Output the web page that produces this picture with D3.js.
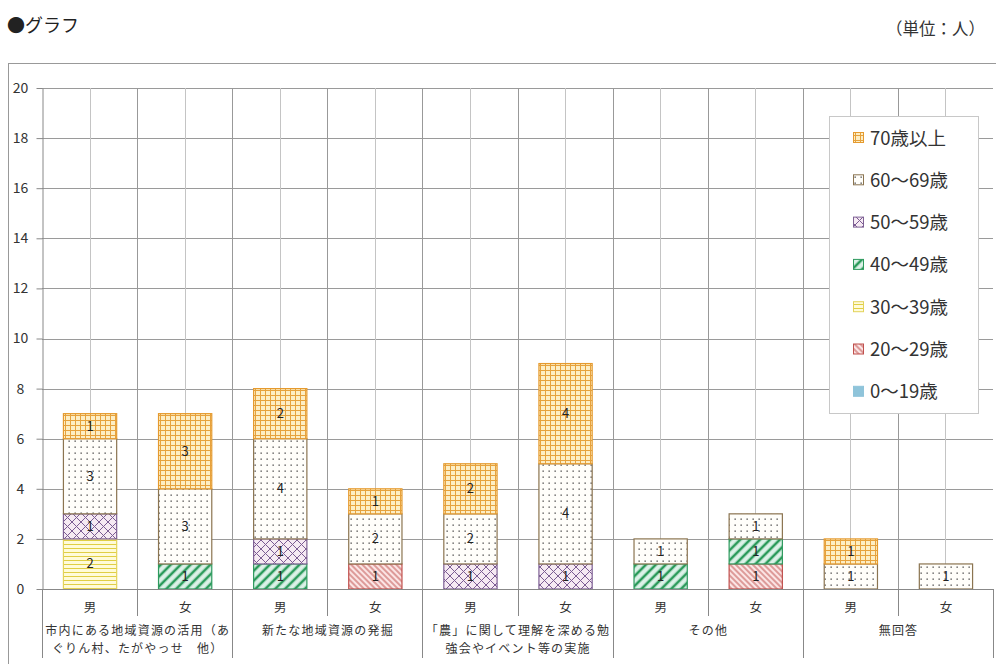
<!DOCTYPE html>
<html>
<head>
<meta charset="utf-8">
<script src="https://cdn.jsdelivr.net/npm/d3@7"></script>
<style>
  body { margin: 0; background: #fff; }
  svg { display: block; }
  text { font-family: "Noto Sans CJK JP", "Noto Sans", sans-serif; }
</style>
</head>
<body>
<svg id="chart" width="996" height="664"></svg>
<script>
// Answer groups (two-line labels split where the text wraps)
const groupLabels = [
  ["市内にある地域資源の活用（あ", "ぐりん村、たがやっせ　他）"],
  ["新たな地域資源の発掘"],
  ["「農」に関して理解を深める勉", "強会やイベント等の実施"],
  ["その他"],
  ["無回答"]
];
const sexLabels = ["男", "女"];

// Age brackets, bottom of the stack first
const ageLabels = ["0～19歳", "20～29歳", "30～39歳", "40～49歳", "50～59歳", "60～69歳", "70歳以上"];

// Counts per bar: group1 男, group1 女, group2 男, ... group5 女
const age0to19  = [0, 0, 0, 0, 0, 0, 0, 0, 0, 0];
const age20to29 = [0, 0, 0, 1, 0, 0, 0, 1, 0, 0];
const age30to39 = [2, 0, 0, 0, 0, 0, 0, 0, 0, 0];
const age40to49 = [0, 1, 1, 0, 0, 0, 1, 1, 0, 0];
const age50to59 = [1, 0, 1, 0, 1, 1, 0, 0, 0, 0];
const age60to69 = [3, 3, 4, 2, 2, 4, 1, 1, 1, 1];
const age70plus = [1, 3, 2, 1, 2, 4, 0, 0, 1, 0];

const yTicks = [0, 2, 4, 6, 8, 10, 12, 14, 16, 18, 20];

const seriesValues = [age0to19, age20to29, age30to39, age40to49, age50to59, age60to69, age70plus];
const seriesKeys = ["a0", "a20", "a30", "a40", "a50", "a60", "a70"];
const strokeColors = ["#8fc4da", "#c0504d", "#e3d35a", "#2e9a5e", "#7e6194", "#8b7450", "#e59a2f"];

// Bar rows for the stack
const barIds = [];
groupLabels.forEach((g, gi) => sexLabels.forEach((s, si) => barIds.push(gi + "-" + si)));
const rows = barIds.map((id, i) => {
  const r = { id };
  seriesKeys.forEach((k, si) => r[k] = seriesValues[si][i]);
  return r;
});

const svg = d3.select("#chart");
const plot = { left: 42, right: 993, top: 88, bottom: 589 };

// ---- fill patterns ----
const defs = svg.append("defs");
function pat(id, w, h, bg, rot) {
  const p = defs.append("pattern").attr("id", id)
    .attr("patternUnits", "userSpaceOnUse").attr("width", w).attr("height", h);
  if (rot) p.attr("patternTransform", "rotate(" + rot + ")");
  p.append("rect").attr("width", w).attr("height", h).attr("fill", bg);
  return p;
}
// 20-29: thin downward diagonals
pat("p20", 4, 4, "#fbe5e5", -45).append("line").attr("x1", 1).attr("x2", 1).attr("y1", 0).attr("y2", 4)
  .attr("stroke", "#c0504d").attr("stroke-width", 1);
// 30-39: horizontal lines
pat("p30", 4, 4, "#fffbd9").append("line").attr("x1", 0).attr("x2", 4).attr("y1", 0.5).attr("y2", 0.5)
  .attr("stroke", "#e0ce45").attr("stroke-width", 1);
// 40-49: wide upward diagonals
pat("p40", 7, 7, "#dcf1e8", 45).append("line").attr("x1", 2).attr("x2", 2).attr("y1", 0).attr("y2", 7)
  .attr("stroke", "#2a9a5a").attr("stroke-width", 2.6);
// 50-59: diagonal cross-hatch
pat("p50", 9, 9, "#f6eaf3").append("path")
  .attr("d", "M0,0L9,9M9,0L0,9M-1,1L1,-1M8,10L10,8M-1,8L1,10M8,-1L10,1")
  .attr("stroke", "#7b5c93").attr("stroke-width", 1).attr("fill", "none");
// 60-69: sparse dots
pat("p60", 6, 6, "#fffefa").append("rect").attr("x", 2.5).attr("y", 2.5).attr("width", 1.3).attr("height", 1.3)
  .attr("fill", "#444");
// 70+: small grid
pat("p70", 5, 5, "#fdeec4").append("path")
  .attr("d", "M0,0.5H5M0.5,0V5")
  .attr("stroke", "#e6a23d").attr("stroke-width", 1).attr("fill", "none");
const fills = ["#8fc4da", "url(#p20)", "url(#p30)", "url(#p40)", "url(#p50)", "url(#p60)", "url(#p70)"];

// ---- scales ----
const x = d3.scaleBand().domain(barIds).range([plot.left, plot.right])
  .paddingInner(0.44).paddingOuter(0.22);
const step = x.step();
const y = d3.scaleLinear().domain([0, 20]).range([plot.bottom, plot.top]);

// ---- headings ----
svg.append("text").attr("x", 7).attr("y", 32).attr("font-size", 18).attr("fill", "#222").text("●グラフ");
svg.append("text").attr("x", 985).attr("y", 35).attr("text-anchor", "end").attr("font-size", 16.5)
  .attr("fill", "#333").text("（単位：人）");

// chart frame
svg.append("rect").attr("x", 8.5).attr("y", 63.5).attr("width", 1100).attr("height", 700)
  .attr("fill", "none").attr("stroke", "#999");

// ---- gridlines ----
const grid = svg.append("g");
grid.selectAll("line.h").data(yTicks.filter(t => t > 0)).join("line")
  .attr("x1", plot.left).attr("x2", plot.right)
  .attr("y1", d => Math.round(y(d)) + 0.5).attr("y2", d => Math.round(y(d)) + 0.5)
  .attr("stroke", "#9a9a9a");
// lines through bar centres
grid.selectAll("line.c").data(barIds).join("line")
  .attr("x1", d => Math.round(x(d) + x.bandwidth() / 2) + 0.5)
  .attr("x2", d => Math.round(x(d) + x.bandwidth() / 2) + 0.5)
  .attr("y1", plot.top).attr("y2", plot.bottom)
  .attr("stroke", "#c4c4c4");
// lines between bars
const boundaries = d3.range(1, barIds.length).map(i => plot.left + i * step);
grid.selectAll("line.b").data(boundaries).join("line")
  .attr("x1", d => Math.round(d) + 0.5).attr("x2", d => Math.round(d) + 0.5)
  .attr("y1", plot.top).attr("y2", plot.bottom)
  .attr("stroke", "#999");

// ---- stacked bars ----
const stacked = d3.stack().keys(seriesKeys)(rows);
const layers = svg.append("g").selectAll("g").data(stacked).join("g")
  .attr("fill", (d, i) => fills[i]).attr("stroke", (d, i) => strokeColors[i]);
layers.selectAll("rect").data(d => d.filter(s => s[1] - s[0] > 0)).join("rect")
  .attr("x", d => x(d.data.id) + 0.5)
  .attr("y", d => y(d[1]))
  .attr("width", x.bandwidth())
  .attr("height", d => y(d[0]) - y(d[1]))
  .attr("stroke-width", 1.2);

// value labels
stacked.forEach(layer => {
  svg.append("g").selectAll("text").data(layer.filter(s => s[1] - s[0] > 0)).join("text")
    .attr("x", d => x(d.data.id) + x.bandwidth() / 2 + 0.5)
    .attr("y", d => y((d[0] + d[1]) / 2) + 4.5)
    .attr("text-anchor", "middle").attr("font-size", 13).attr("fill", "#222")
    .text(d => d[1] - d[0]);
});

// ---- y axis ----
const yAxis = svg.append("g").attr("transform", "translate(" + (plot.left + 0.5) + ",0)")
  .call(d3.axisLeft(y).tickValues(yTicks).tickSize(6).tickSizeOuter(0));
yAxis.select(".domain").attr("stroke", "#888");
yAxis.selectAll(".tick line").attr("stroke", "#888");
yAxis.selectAll(".tick text").attr("x", -22).attr("text-anchor", "middle")
  .attr("font-family", "'Liberation Sans', Arial, sans-serif").attr("font-size", 14).attr("fill", "#333");

// ---- x axis (two levels) ----
svg.append("line").attr("x1", plot.left).attr("x2", plot.right)
  .attr("y1", plot.bottom + 0.5).attr("y2", plot.bottom + 0.5).attr("stroke", "#888");
const xa = svg.append("g");
// short separators between 男 and 女
xa.selectAll("line.s").data(groupLabels.map((g, gi) => plot.left + (gi * 2 + 1) * step)).join("line")
  .attr("x1", d => Math.round(d) + 0.5).attr("x2", d => Math.round(d) + 0.5)
  .attr("y1", plot.bottom).attr("y2", 616).attr("stroke", "#888");
// long separators between groups
xa.selectAll("line.g").data(d3.range(groupLabels.length + 1).map(gi => plot.left + gi * 2 * step)).join("line")
  .attr("x1", d => Math.round(d) + 0.5).attr("x2", d => Math.round(d) + 0.5)
  .attr("y1", plot.bottom).attr("y2", 658).attr("stroke", "#888");
// 男 / 女
xa.selectAll("text.sex").data(barIds).join("text")
  .attr("x", d => x(d) + x.bandwidth() / 2 + 0.5).attr("y", 612)
  .attr("text-anchor", "middle").attr("font-size", 12.5).attr("fill", "#333")
  .text(d => sexLabels[+d.split("-")[1]]);
// group names
groupLabels.forEach((lines, gi) => {
  const cx = plot.left + (gi * 2 + 1) * step;
  lines.forEach((t, li) => {
    xa.append("text").attr("x", cx + 0.6).attr("y", 635 + li * 17.6)
      .attr("text-anchor", "middle").attr("font-size", 12).attr("letter-spacing", 1.2)
      .attr("fill", "#333").text(t);
  });
});

// ---- legend ----
const legend = svg.append("g");
legend.append("rect").attr("x", 829.5).attr("y", 116.5).attr("width", 149).attr("height", 297)
  .attr("fill", "#fff").attr("stroke", "#c8c8c8");
const order = d3.range(ageLabels.length).reverse();
order.forEach((si, k) => {
  const cy = 138 + k * 42.3;
  legend.append("rect").attr("x", 853.5).attr("y", cy - 5.5).attr("width", 10).attr("height", 10)
    .attr("fill", fills[si]).attr("stroke", strokeColors[si]);
  legend.append("text").attr("x", 870).attr("y", cy + 6.5).attr("font-size", 18.5).attr("fill", "#333")
    .text(ageLabels[si]);
});
</script>
</body>
</html>
